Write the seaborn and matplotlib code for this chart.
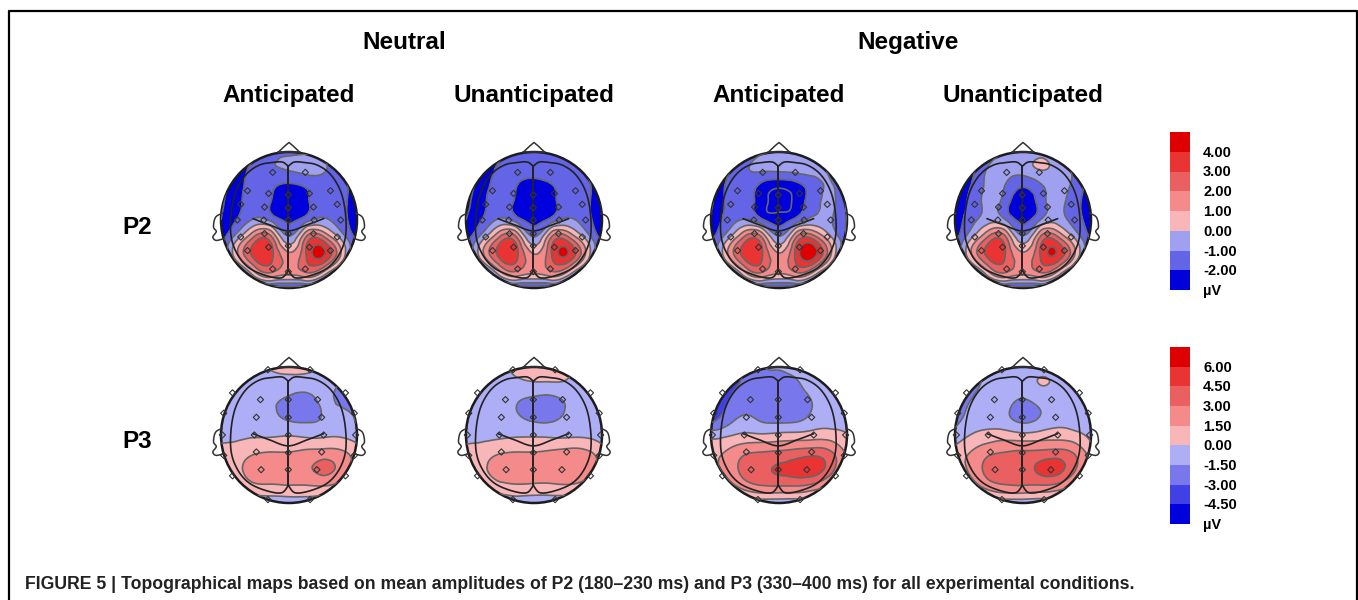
import numpy as np
import matplotlib
matplotlib.use("Agg")
import matplotlib.pyplot as plt
import matplotlib.tri as mtri
from matplotlib.lines import Line2D
from matplotlib.patches import Circle
import seaborn as sns

W, H = 1358, 600

# amplitude values (uV), rows run front to back of the head
grid_axis = [-1, -0.75, -0.5, -0.25, 0, 0.25, 0.5, 0.75, 1]

p2_neutral_ant = [
    [-3, -3, -2.5, -1.5, -1.3, -1.2, -1.5, -2.5, -3],
    [-3.5, -2.5, -1.6, -1.1, -0.9, -0.6, -0.8, -1.8, -3.2],
    [-3.5, -2.3, -1.6, -1.8, -2.2, -1.9, -1.6, -1.5, -3.2],
    [-3.2, -2.2, -1.5, -2.1, -2.7, -2.2, -1.5, -1.6, -3],
    [-3, -1.9, -0.8, -1.3, -2.2, -1.4, -0.8, -1.5, -2.8],
    [-2.5, -0.3, 2.2, 2.0, -0.9, 2.0, 2.2, -0.2, -2.3],
    [-2.2, 1.0, 3.5, 3.2, 1.2, 3.0, 4.2, 1.2, -2.2],
    [-2.4, -1.5, 1.2, 2.2, 1.5, 2.2, 1.2, -1.2, -2.4],
    [-3, -3, -2.5, -2.5, -2.5, -2.5, -2.5, -3, -3],
]
p2_neutral_una = [
    [-3, -3, -2.5, -1.8, -1.5, -1.4, -1.8, -2.5, -3],
    [-3.5, -2.8, -1.7, -1.5, -1.4, -1.2, -1.4, -2.0, -3.4],
    [-3.6, -2.4, -1.6, -2.0, -2.5, -2.1, -1.6, -1.6, -3.4],
    [-3.3, -2.2, -1.5, -2.3, -2.9, -2.4, -1.5, -1.7, -3.1],
    [-3, -1.9, -0.8, -1.5, -2.4, -1.6, -0.8, -1.5, -2.9],
    [-2.5, -0.4, 2.1, 1.9, -1.0, 1.9, 2.1, -0.2, -2.4],
    [-2.2, 0.9, 3.4, 3.2, 1.0, 2.9, 4.0, 1.1, -2.2],
    [-2.4, -1.6, 1.0, 2.0, 1.3, 2.0, 1.1, -1.3, -2.4],
    [-3, -3, -2.6, -2.6, -2.6, -2.6, -2.6, -3, -3],
]
p2_negative_ant = [
    [-3, -3, -2.4, -1.2, -0.9, -0.8, -1.2, -2.4, -3],
    [-3.4, -2.2, -1.2, -0.8, -0.7, -0.6, -0.6, -1.2, -3.0],
    [-3.4, -1.8, -1.5, -2.3, -2.8, -2.4, -1.5, -0.9, -2.4],
    [-3.2, -1.8, -1.6, -2.6, -3.3, -2.7, -1.4, -0.8, -2.2],
    [-2.8, -1.6, -0.9, -1.8, -2.5, -1.6, -0.7, -0.9, -2.1],
    [-2.3, -0.3, 2.2, 1.9, -0.9, 1.9, 2.5, 0.2, -2.0],
    [-2.2, 1.0, 3.5, 3.1, 1.1, 3.3, 4.5, 1.3, -2.2],
    [-2.4, -1.4, 1.2, 2.2, 1.3, 2.2, 1.3, -1.2, -2.4],
    [-3, -3, -2.6, -2.6, -2.6, -2.6, -2.6, -3, -3],
]
p2_negative_una = [
    [-3, -3, -2.2, -0.9, -0.7, -0.5, -0.9, -2.2, -3],
    [-3.2, -2.3, -0.8, -0.5, -0.5, 0.05, -0.4, -1.2, -3.0],
    [-3.2, -1.9, -0.7, -1.1, -1.9, -1.2, -0.7, -1.2, -2.9],
    [-3.0, -1.6, -0.7, -1.6, -2.7, -1.6, -0.7, -1.5, -2.9],
    [-2.8, -1.3, -0.4, -1.0, -2.3, -1.0, -0.4, -1.4, -2.6],
    [-2.4, -0.1, 2.2, 2.0, -0.8, 2.0, 2.2, -0.1, -2.2],
    [-2.2, 1.1, 3.4, 2.9, 1.2, 3.0, 3.9, 1.2, -2.2],
    [-2.4, -1.4, 1.2, 2.2, 1.5, 2.2, 1.2, -1.2, -2.4],
    [-3, -3, -2.5, -2.5, -2.5, -2.5, -2.5, -3, -3],
]
p3_neutral_ant = [
    [-0.5, -0.7, -0.6, 0.3, 0.5, 0.5, -0.3, -0.7, -0.8],
    [-1, -1, -1, -0.8, -0.7, -0.8, -0.9, -1.5, -1.7],
    [-1, -1, -1, -1.3, -1.8, -2.0, -1.3, -1.7, -1.9],
    [-1, -1, -1, -1.2, -1.7, -1.8, -1.4, -1.0, -1.7],
    [-0.6, -0.4, -0.2, -0.2, -0.1, -0.3, -0.3, -0.2, -0.8],
    [0.6, 0.8, 1.3, 1.5, 1.5, 1.8, 2.0, 1.8, 0.7],
    [0.8, 1.2, 2.2, 2.3, 2.5, 2.7, 3.4, 2.5, 0.8],
    [0.3, 0.5, 1.2, 1.3, 1.4, 1.4, 1.5, 1, 0.3],
    [-1, -1, -1, -1, -0.8, -0.8, -1, -1, -1],
]
p3_neutral_una = [
    [-0.5, -0.5, -0.3, 0.4, 0.6, 0.6, 0.4, -0.5, -0.8],
    [-1, -0.9, -0.8, -0.4, -0.2, -0.2, -0.3, -0.9, -1.2],
    [-1, -1, -1, -1.4, -1.9, -2.0, -1.3, -1.0, -1.3],
    [-1, -1, -1, -1.3, -1.8, -1.8, -1.2, -1.0, -1.4],
    [-0.7, -0.5, -0.3, -0.2, -0.2, -0.3, -0.3, -0.3, -0.9],
    [0.6, 0.8, 1.3, 1.5, 1.5, 1.7, 2.0, 1.8, 0.7],
    [0.8, 1.2, 2.3, 2.3, 2.4, 2.5, 2.9, 2.3, 0.8],
    [0.3, 0.5, 1.0, 1.3, 1.2, 1.2, 1.3, 0.9, 0.3],
    [-1, -1, -1, -1, -1, -1, -1, -1, -1],
]
p3_negative_ant = [
    [-3.8, -3.6, -3.0, -1.6, -1.4, -0.9, -0.7, -1, -1.4],
    [-3.8, -3.6, -2.6, -1.9, -1.9, -1.7, -0.9, -0.9, -1.2],
    [-3.8, -3.0, -2.1, -2.1, -2.2, -2.2, -1.4, -0.8, -1.1],
    [-3.6, -2.2, -1.3, -1.8, -2.0, -1.9, -1.1, -0.6, -0.7],
    [-0.6, -0.2, 0.3, 0.2, 0.4, 0.5, 0.7, 0.7, 0.1],
    [1.0, 1.7, 2.7, 3.0, 3.2, 3.5, 3.8, 3.2, 1.1],
    [1.3, 2.0, 3.6, 4.2, 4.7, 5.1, 5.3, 3.7, 1.2],
    [0.5, 0.9, 2.2, 2.9, 3.0, 3.0, 2.5, 1.3, 0.4],
    [-1, -1, -1, -1, -1, -1, -1, -1, -1],
]
p3_negative_una = [
    [-1.8, -2, -1.7, -0.8, -0.6, -0.6, -0.6, -0.8, -1],
    [-2.4, -2, -1.0, -0.8, -0.6, 0.02, -0.3, -0.8, -1],
    [-2.6, -1.4, -1.0, -1.0, -1.7, -1.0, -0.9, -0.8, -0.9],
    [-2.0, -1.0, -0.8, -1.2, -2.0, -1.4, -0.7, -0.7, -0.8],
    [-1.0, 0.1, 0.6, 0.7, 0.4, 0.6, 0.8, 0.5, -0.4],
    [0.6, 1.6, 2.6, 3.0, 3.2, 3.3, 3.5, 2.8, 0.7],
    [1.1, 1.9, 3.6, 3.9, 4.1, 4.8, 5.0, 3.3, 1.0],
    [0.5, 0.9, 2.2, 2.8, 2.9, 2.8, 2.5, 1.2, 0.4],
    [-1, -1, -1, -1, -1, -1, -1, -1, -1],
]

p2_maps = [p2_neutral_ant, p2_neutral_una, p2_negative_ant, p2_negative_una]
p3_maps = [p3_neutral_ant, p3_neutral_una, p3_negative_ant, p3_negative_una]

# colour scale labels and bins, top to bottom
p2_ticks = ["4.00", "3.00", "2.00", "1.00", "0.00", "-1.00", "-2.00"]
p3_ticks = ["6.00", "4.50", "3.00", "1.50", "0.00", "-1.50", "-3.00", "-4.50"]
p2_levels = [4, 3, 2, 1, 0, -1, -2]
p3_levels = [6, 4.5, 3, 1.5, 0, -1.5, -3, -4.5]
p2_colors = ["#de0000", "#ea3434", "#ea6060", "#f58a8a", "#f8b6b8",
             "#a0a0f0", "#6464e6", "#0000dc"]
p3_colors = ["#de0000", "#ea3434", "#ea6060", "#f58a8a", "#f8b6b8",
             "#aeaef6", "#7878ec", "#4040e4", "#0000dc"]

# electrode layout, one side of the head plus the midline
p3_side_x = [0.31, 0.83, 0.96, 0.98, 0.96, 0.83, 0.31, 0.42, 0.48, 0.51, 0.48, 0.41]
p3_side_y = [0.96, 0.62, 0.32, 0.0, -0.30, -0.60, -0.95, 0.52, 0.26, 0.0, -0.25, -0.51]
p3_mid_y = [0.52, 0.26, 0.0, -0.26, -0.51]
p2_side_x = [0.24, 0.61, 0.71, 0.76, 0.71, 0.61, 0.24, 0.30, 0.36, 0.37, 0.36, 0.30]
p2_side_y = [0.70, 0.43, 0.23, 0.0, -0.25, -0.45, -0.72, 0.39, 0.19, 0.0, -0.20, -0.40]
p2_mid_y = [0.37, 0.18, 0.0, -0.20, -0.38, -0.76]

# head drawing
lobe_x = [-0.01, -0.09, -0.21, -0.43, -0.63, -0.78, -0.85, -0.85, -0.75, -0.58, -0.33, -0.11, -0.01]
lobe_y = [0.79, 0.85, 0.85, 0.81, 0.67, 0.42, 0.10, -0.25, -0.52, -0.71, -0.82, -0.85, -0.74]
sulcus_x = [-0.53, -0.29, -0.01, 0.27, 0.51]
sulcus_y = [0.02, -0.07, -0.16, -0.07, 0.02]
nose_x = [-0.16, -0.06, 0.0, 0.06, 0.16]
nose_y = [0.995, 1.09, 1.14, 1.09, 0.995]
ear_x = [0.98, 1.08, 1.11, 1.07, 1.12, 1.07, 0.95]
ear_y = [0.10, 0.04, -0.10, -0.17, -0.25, -0.30, -0.27]

head_x = [289, 534, 779, 1023]
col_heads = ["Anticipated", "Unanticipated", "Anticipated", "Unanticipated"]

sns.set_theme(style="white")
plt.rcParams["font.family"] = ["Liberation Sans", "DejaVu Sans"]
fig = plt.figure(figsize=(W / 100, H / 100), dpi=100, facecolor="white")


def px_axes(x, y, w, h):
    return fig.add_axes([x / W, 1 - (y + h) / H, w / W, h / H])


def smooth(x, y, n=12):
    # catmull-rom through the traced points so the outlines are not faceted
    pts = np.column_stack([x, y])
    pts = np.vstack([pts[0], pts, pts[-1]])
    t = np.linspace(0, 1, n, endpoint=False)[:, None]
    out = []
    for i in range(1, len(pts) - 2):
        p0, p1, p2, p3 = pts[i - 1], pts[i], pts[i + 1], pts[i + 2]
        out.append(0.5 * (2 * p1 + (p2 - p0) * t + (2 * p0 - 5 * p1 + 4 * p2 - p3) * t**2
                          + (3 * p1 - p0 - 3 * p2 + p3) * t**3))
    out.append(pts[-2][None, :])
    return np.vstack(out).T


def draw_head(cx, cy, values, levels, colors, sens_x, sens_y, mid_y):
    radius = 68
    span = 1.3
    ax = px_axes(cx - span * radius, cy - span * radius, 2 * span * radius, 2 * span * radius)
    ax.set_xlim(-span, span)
    ax.set_ylim(-span, span)
    ax.axis("off")

    gx, gy = np.meshgrid(grid_axis, grid_axis[::-1])
    tri = mtri.Triangulation(gx.ravel(), gy.ravel())
    fine, z = mtri.UniformTriRefiner(tri).refine_field(np.array(values, float).ravel(), subdiv=4)

    rising = sorted(levels)
    filled = ax.tricontourf(fine, z, levels=[-99] + rising + [99], colors=colors[::-1])
    lines = ax.tricontour(fine, z, levels=[rising[0] - (rising[1] - rising[0])] + rising,
                          colors="#666666", linewidths=1.2, linestyles="solid")
    clip = Circle((0, 0), 1, transform=ax.transData)
    filled.set_clip_path(clip)
    lines.set_clip_path(clip)

    for sx, sy in [smooth(lobe_x, lobe_y), smooth(-np.array(lobe_x) - 0.02, lobe_y),
                   smooth(sulcus_x, sulcus_y)]:
        ax.plot(sx, sy, color="#222222", lw=1.2)
    ax.plot([-0.01, -0.01], [0.79, -0.74], color="#222222", lw=1.4)
    ax.add_patch(Circle((0, 0), 1, fill=False, ec="#1c1c1c", lw=1.8))
    ax.plot(nose_x, nose_y, color="#333333", lw=1.1)
    ax.plot([-0.16, 0.16], [0.995, 0.995], color="#333333", lw=1.1)
    ex, ey = smooth(ear_x, ear_y)
    ax.plot(ex, ey, color="#333333", lw=1.1)
    ax.plot(-ex, ey, color="#333333", lw=1.1)

    px = list(sens_x) + [-v for v in sens_x] + [-0.01] * len(mid_y)
    py = list(sens_y) + list(sens_y) + list(mid_y)
    sns.scatterplot(x=px, y=py, marker="D", s=10, facecolor="none", edgecolor="#333333",
                    linewidth=0.8, ax=ax, legend=False, zorder=5)
    ax.set_xlim(-span, span)
    ax.set_ylim(-span, span)
    ax.axis("off")


def draw_scale(x, y, h, levels, colors, ticks):
    n = len(colors)
    ax = px_axes(x, y, 20, h)
    cells = np.arange(n)[:, None]
    sns.heatmap(cells, ax=ax, cmap=colors, cbar=False, xticklabels=False, yticklabels=False)
    step = h / n
    for i, label in enumerate(ticks):
        fig.text(1203 / W, 1 - (y + step * (i + 1) + 1) / H, label, fontsize=10.5,
                 fontweight="bold", ha="left", va="center", color="black")
    fig.text(1203 / W, 1 - (y + h + 1) / H, "µV", fontsize=10.5, fontweight="bold",
             ha="left", va="center", color="black")


for cx, vals in zip(head_x, p2_maps):
    draw_head(cx, 220, vals, p2_levels, p2_colors, p2_side_x, p2_side_y, p2_mid_y)
for cx, vals in zip(head_x, p3_maps):
    draw_head(cx, 435, vals, p3_levels, p3_colors, p3_side_x, p3_side_y, p3_mid_y)

draw_scale(1170, 132, 158, p2_levels, p2_colors, p2_ticks)
draw_scale(1170, 347, 177, p3_levels, p3_colors, p3_ticks)

for x, label in [(404, "Neutral"), (908, "Negative")]:
    fig.text(x / W, 1 - 49 / H, label, fontsize=17.5, fontweight="bold", ha="center",
             va="baseline", color="black")
for x, label in zip(head_x, col_heads):
    fig.text(x / W, 1 - 102 / H, label, fontsize=17.5, fontweight="bold", ha="center",
             va="baseline", color="black")
for y, label in [(234, "P2"), (448, "P3")]:
    fig.text(137 / W, 1 - y / H, label, fontsize=17.5, fontweight="bold", ha="center",
             va="baseline", color="black")

fig.text(25 / W, 1 - 589 / H,
         "FIGURE 5 | Topographical maps based on mean amplitudes of P2 (180–230 ms) and P3 (330–400 ms) for all experimental conditions.",
         fontsize=12.7, fontweight="bold", ha="left", va="baseline", color="#222222")

# page frame, open at the bottom
fig.add_artist(Line2D([9 / W, 9 / W, 1357 / W, 1357 / W], [0, 1 - 11 / H, 1 - 11 / H, 0],
                      color="black", lw=1.6))

fig.savefig("out.png", dpi=100, facecolor="white")
